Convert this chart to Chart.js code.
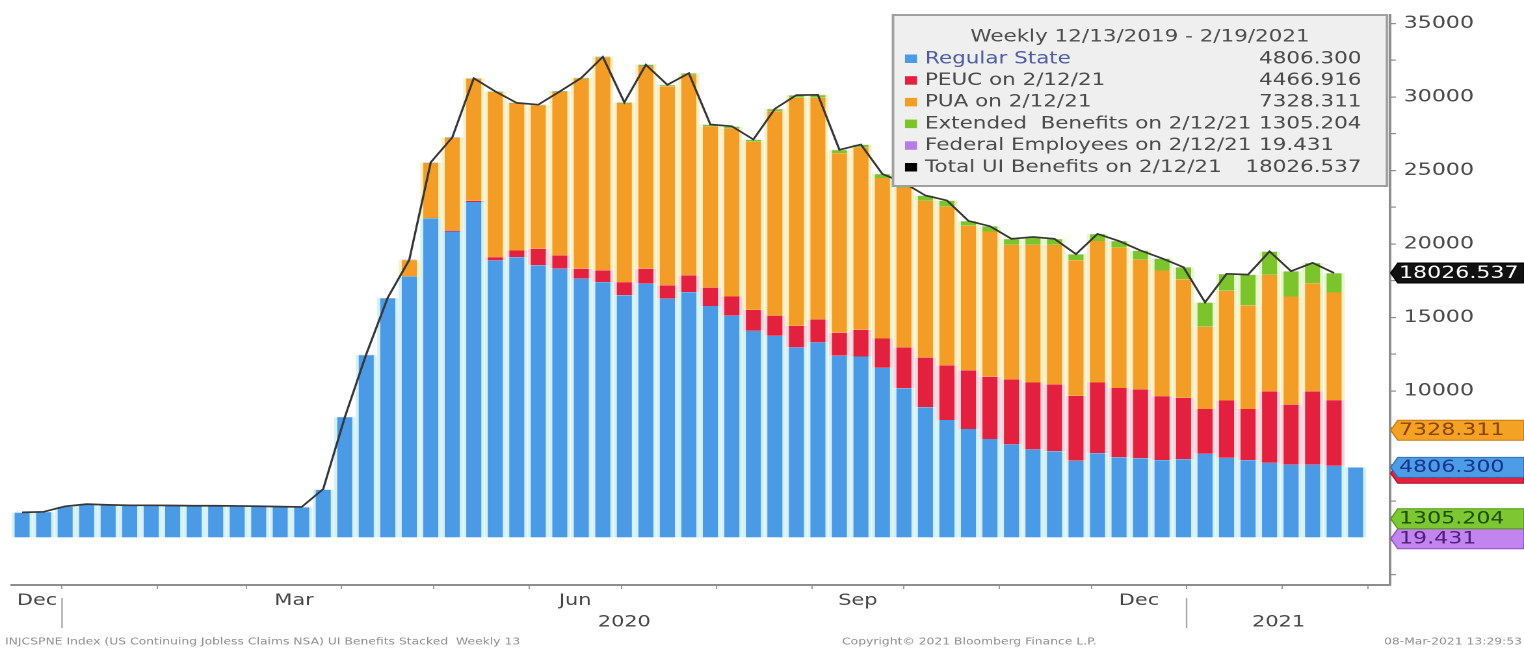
<!DOCTYPE html>
<html><head><meta charset="utf-8">
<script src="https://cdn.jsdelivr.net/npm/chart.js"></script>
<style>
html,body{margin:0;padding:0;background:#fff;overflow:hidden;width:1524px;height:648px}
#wrap{position:absolute;left:0;top:0;width:1172px;height:648px;transform:scaleX(1.300341);transform-origin:0 0}
</style></head><body>
<div id="wrap"><canvas id="c"></canvas></div>
<script>
// ---------------- data ----------------
const weekDates = ['12/13/2019','12/20/2019','12/27/2019',
 '1/3/2020','1/10/2020','1/17/2020','1/24/2020','1/31/2020','2/7/2020','2/14/2020','2/21/2020','2/28/2020',
 '3/6/2020','3/13/2020','3/20/2020','3/27/2020','4/3/2020','4/10/2020','4/17/2020','4/24/2020',
 '5/1/2020','5/8/2020','5/15/2020','5/22/2020','5/29/2020','6/5/2020','6/12/2020','6/19/2020','6/26/2020',
 '7/3/2020','7/10/2020','7/17/2020','7/24/2020','7/31/2020','8/7/2020','8/14/2020','8/21/2020','8/28/2020',
 '9/4/2020','9/11/2020','9/18/2020','9/25/2020','10/2/2020','10/9/2020','10/16/2020','10/23/2020','10/30/2020',
 '11/6/2020','11/13/2020','11/20/2020','11/27/2020','12/4/2020','12/11/2020','12/18/2020','12/25/2020',
 '1/1/2021','1/8/2021','1/15/2021','1/22/2021','1/29/2021','2/5/2021','2/12/2021','2/19/2021'];

const regularState = [1720,1760,2120,2280,2230,2200,2200,2190,2170,2170,2160,2140,2110,2090,
 3280,8220,12440,16300,17800,21740,20850,22860,18890,19110,18550,18320,17640,17410,16510,17300,16280,16730,
 15780,15130,14090,13750,12970,13310,12400,12350,11570,10190,8890,8030,7410,6730,6370,6030,5900,5250,5770,
 5490,5420,5300,5360,5720,5445,5300,5110,4990,4990,4907,4806.3];

const peuc = [null,null,null,null,null,null,null,null,null,null,null,null,null,null,null,null,null,null,null,null,
 60,80,220,450,1130,910,680,800,900,1020,910,1140,1250,1300,1430,1380,1460,1560,1560,1820,2000,2780,3380,3720,
 4000,4240,4420,4550,4550,4420,4810,4715,4700,4350,4170,3050,3905,3470,4860,4080,4980,4466.916,null];

const pua = [null,null,null,null,null,null,null,null,null,null,null,null,null,null,null,null,null,null,
 1090,3770,6310,8310,11230,10000,9750,11110,12930,14470,12150,13790,13540,13640,10970,11440,11440,13910,15520,15080,
 12220,12400,10920,10870,10660,10790,9830,9880,9150,9360,9490,9230,9620,9545,8820,8550,8070,5600,7470,7060,
 7930,7360,7370,7328.311,null];

const extendedBenefits = [null,null,null,null,null,null,null,null,null,null,null,null,null,null,null,null,null,null,
 20,22,25,28,30,35,40,45,50,55,60,70,80,90,100,110,120,140,160,180,210,180,250,300,350,400,310,340,390,520,390,
 390,470,430,600,800,800,1640,1130,2070,1580,1700,1360,1305.204,null];

const federalEmployees = [13,13,14,14,14,13,13,13,13,13,12,12,12,12,
 14,18,22,24,26,27,27,26,25,24,24,23,23,22,22,22,21,21,21,20,20,20,20,20,19,19,19,19,18,18,18,18,18,18,
 19,19,20,20,20,20,19,21,20,19,19,19,19,19.431,null];

const totalUI = [1740,1780,2150,2300,2250,2220,2220,2210,2190,2190,2180,2160,2130,2110,3330,8200,12500,16350,
 18920,25560,27250,31280,30380,29600,29480,30380,31300,32730,29640,32200,30830,31620,28130,28010,27110,29200,
 30130,30150,26410,26770,24760,24160,23300,22960,21570,21210,20350,20480,20350,19310,20690,20200,19560,19020,
 18420,16030,17970,17920,19500,18150,18720,18026.537];

const legendTitle = 'Weekly 12/13/2019 - 2/19/2021';
const legendLabels = ['Regular State','PEUC on 2/12/21','PUA on 2/12/21','Extended  Benefits on 2/12/21','Federal Employees on 2/12/21','Total UI Benefits on 2/12/21'];
const legendValues = ['4806.300','4466.916','7328.311','1305.204','19.431','18026.537'];
const lastValues = [4806.3, 4466.916, 7328.311, 1305.204, 19.431, 18026.537];

const yTickLabels = [10000,15000,20000,25000,30000,35000];
const monthLabels = [{y:2019,m:11,label:'Dec'},{y:2020,m:2,label:'Mar'},{y:2020,m:5,label:'Jun'},{y:2020,m:8,label:'Sep'},{y:2020,m:11,label:'Dec'}];
const yearLabels = ['2020','2021'];
const footerTexts = ['INJCSPNE Index (US Continuing Jobless Claims NSA) UI Benefits Stacked  Weekly 13','Copyright\u00A9 2021 Bloomberg Finance L.P.','08-Mar-2021 13:29:53'];

// ---------------- helpers ----------------
const S = 1524/1172;             // horizontal stretch of the page
const rx = x => x / S;           // reference x -> canvas x
const W = 1172;
const DAY = 86400000;
const parseDate = s => { const [m,d,y] = s.split('/').map(Number); return Date.UTC(y, m-1, d); };
const t0 = parseDate(weekDates[0]);
const PLOT_LAG_DAYS = 6;
const posOf = t => (t - t0)/DAY/7 - PLOT_LAG_DAYS/7;
const X_MIN = -0.47, X_MAX = 63.6;
const Y_MIN = -3200, Y_MAX = 35580;

const monthStarts = [];
for (let y = 2019, m = 11; y < 2021 || m <= 3; ) {
  const p = posOf(Date.UTC(y, m, 1));
  if (p >= X_MIN && p <= X_MAX) monthStarts.push(p);
  m++; if (m > 11) { m = 0; y++; }
}
const monthTicks = monthLabels.map(o => {
  const a = Math.max(posOf(Date.UTC(o.y, o.m, 1)), X_MIN);
  const b = Math.min(posOf(Date.UTC(o.y, o.m + 1, 1)), X_MAX);
  return {value: (a + b)/2, label: o.label};
});
const yearTicks = yearLabels.map(yl => {
  const y = Number(yl);
  const a = Math.max(posOf(Date.UTC(y, 0, 1)), X_MIN);
  const b = Math.min(posOf(Date.UTC(y + 1, 0, 1)), X_MAX - 0.9);
  return {value: (a + b)/2, label: yl};
});
const yearBounds = yearLabels.map(yl => posOf(Date.UTC(Number(yl), 0, 1)));

const pts = arr => arr.map((v, i) => ({x: i, y: v}));
const FONT = '"DejaVu Sans", Verdana, sans-serif';
const COLORS = {reg:'#4a9ae6', peuc:'#e3213f', pua:'#f39c26', eb:'#7cc42c', fed:'#b77de6', tot:'#111111'};
const TINTS  = {reg:'#d2f1fd', peuc:'#f9d3dc', pua:'#fdefc2', eb:'#e6f6cc', fed:'#eedcf8'};

// ---------------- decorations plugin ----------------
const decor = {
  id: 'decor',
  afterDraw(chart) {
    const ctx = chart.ctx;
    const xs = chart.scales.x, ys = chart.scales.y;
    const area = chart.chartArea;
    ctx.save();
    // year separators
    ctx.strokeStyle = '#a8a8a8'; ctx.lineWidth = 1.2;
    yearBounds.forEach(p => {
      const x = xs.getPixelForValue(p);
      if (x < area.left || x > area.right) return;
      ctx.beginPath(); ctx.moveTo(x, 598); ctx.lineTo(x, 628); ctx.stroke();
    });

    // legend box
    const L = rx(893), R = rx(1387), T = 15, B = 186;
    ctx.fillStyle = '#efefef'; ctx.fillRect(L, T, R - L, B - T);
    ctx.strokeStyle = '#a0a0a0'; ctx.lineWidth = 2; ctx.strokeRect(L, T, R - L, B - T);
    ctx.font = '16.5px ' + FONT; ctx.textBaseline = 'middle';
    ctx.fillStyle = '#4d4d4d'; ctx.textAlign = 'center';
    ctx.fillText(legendTitle, (L + R)/2, 37);
    const mcol = [COLORS.reg, COLORS.peuc, COLORS.pua, COLORS.eb, COLORS.fed, '#000000'];
    const valCol = rx(1259);
    const valRight = valCol + ctx.measureText(legendValues[0]).width;
    legendLabels.forEach((lab, k) => {
      const y = 59 + k*21.7;
      ctx.fillStyle = mcol[k]; ctx.fillRect(rx(905), y - 4.5, rx(917) - rx(905), 8.5);
      ctx.fillStyle = k === 0 ? '#4f5ca6' : '#4a4a4a';
      ctx.textAlign = 'left';
      ctx.fillText(lab, rx(925), y);
      ctx.fillStyle = '#4a4a4a';
      const vw = ctx.measureText(legendValues[k]).width;
      const vx = k === legendValues.length - 1 ? valRight - vw : valCol;
      ctx.fillText(legendValues[k], vx, y);
    });

    // value tags on the right axis
    const H = 20, tip = area.right + 0.5, body = area.right + 6;
    const tag = (y, fill, edge, txt, tcol) => {
      ctx.beginPath();
      ctx.moveTo(tip, y); ctx.lineTo(body, y - H/2); ctx.lineTo(W, y - H/2);
      ctx.lineTo(W, y + H/2); ctx.lineTo(body, y + H/2); ctx.closePath();
      ctx.fillStyle = fill; ctx.fill();
      ctx.strokeStyle = edge; ctx.lineWidth = 1; ctx.stroke();
      ctx.fillStyle = tcol; ctx.textAlign = 'left'; ctx.textBaseline = 'middle';
      ctx.font = '17px ' + FONT;
      ctx.fillText(txt, rx(1399), y + 0.5);
    };
    const yReg = ys.getPixelForValue(lastValues[0]);
    const yPeuc = ys.getPixelForValue(lastValues[1]);
    const yPua = ys.getPixelForValue(lastValues[2]);
    const yEb = ys.getPixelForValue(lastValues[3]);
    let yFed = ys.getPixelForValue(lastValues[4]);
    const yTot = ys.getPixelForValue(lastValues[5]);
    if (yFed < yEb + H) yFed = yEb + H;
    tag(yFed, '#c285ef', '#8f4fc0', legendValues[4], '#4f1d78');
    tag(yEb, '#7dc832', '#4f9a12', legendValues[3], '#1f4d00');
    tag(yPeuc + 1, '#e3213f', '#a8102a', legendValues[1], '#5a0010');
    tag(yReg, '#4c9de6', '#2d6fb8', legendValues[0], '#17348f');
    tag(yPua, '#f4a226', '#c77a0a', legendValues[2], '#8a4300');
    tag(yTot, '#111111', '#000000', legendValues[5], '#ffffff');

    // footer
    ctx.font = '9.5px ' + FONT; ctx.fillStyle = '#8d8d8d'; ctx.textBaseline = 'middle';
    ctx.textAlign = 'left';
    ctx.fillText(footerTexts[0], rx(5), 642);
    ctx.fillText(footerTexts[1], rx(842), 642);
    ctx.textAlign = 'right';
    ctx.fillText(footerTexts[2], rx(1522), 642);
    ctx.restore();
  }
};

// ---------------- chart ----------------
const barDs = (label, arr, key) => ({type:'bar', label, data: pts(arr), backgroundColor: COLORS[key],
  borderColor: TINTS[key], borderWidth: {left: 2.4, right: 2.4, top: 0, bottom: 0}, borderSkipped: false,
  stack: 'ui', order: 1, barPercentage: 0.99, categoryPercentage: 1.0, xAxisID:'x', yAxisID:'y'});

new Chart(document.getElementById('c'), {
  type: 'bar',
  data: {
    datasets: [
      {type:'line', label:'Total UI Benefits', data: pts(totalUI), borderColor:'#363636', borderWidth:1.7,
       pointRadius:0, tension:0, fill:false, order:0, stack:'total', xAxisID:'x', yAxisID:'y'},
      barDs('Regular State', regularState, 'reg'),
      barDs('PEUC', peuc, 'peuc'),
      barDs('PUA', pua, 'pua'),
      barDs('Extended Benefits', extendedBenefits, 'eb'),
      barDs('Federal Employees', federalEmployees, 'fed')
    ]
  },
  options: {
    responsive: true, maintainAspectRatio: false, animation: false, devicePixelRatio: 2,
    layout: {padding: {left: rx(12), top: 15, right: 0, bottom: 14}},
    plugins: {legend: {display: false}, tooltip: {enabled: false}},
    scales: {
      x: {type:'linear', position:'bottom', min: X_MIN, max: X_MAX, stacked: true, offset: false, weight: 0,
          grid: {display: true, drawOnChartArea: false, drawTicks: true, tickLength: 4, offset: false, color:'#9a9a9a', lineWidth: 1},
          border: {display: true, color: '#8e8e8e', width: 2},
          ticks: {display: false, autoSkip: false},
          afterBuildTicks: s => { s.ticks = monthStarts.map(v => ({value: v})); },
          afterFit: s => { s.height = 5; s.paddingLeft = 0; s.paddingRight = 0; }},
      xMonth: {type:'linear', axis:'x', position:'bottom', min: X_MIN, max: X_MAX, offset: false, weight: 1,
          grid: {display: false, drawTicks: false}, border: {display: false},
          ticks: {autoSkip: false, maxRotation: 0, padding: 1, color: '#464646', font: {family: FONT, size: 16},
                  callback: (v, i) => monthTicks[i] ? monthTicks[i].label : ''},
          afterBuildTicks: s => { s.ticks = monthTicks.map(t => ({value: t.value})); },
          afterFit: s => { s.height = 22; s.paddingLeft = 0; s.paddingRight = 0; }},
      xYear: {type:'linear', axis:'x', position:'bottom', min: X_MIN, max: X_MAX, offset: false, weight: 2,
          grid: {display: false, drawTicks: false}, border: {display: false},
          ticks: {autoSkip: false, maxRotation: 0, padding: 0.5, color: '#464646', font: {family: FONT, size: 16},
                  callback: (v, i) => yearTicks[i] ? yearTicks[i].label : ''},
          afterBuildTicks: s => { s.ticks = yearTicks.map(t => ({value: t.value})); },
          afterFit: s => { s.height = 22; s.paddingLeft = 0; s.paddingRight = 0; }},
      y: {type:'linear', position:'right', min: Y_MIN, max: Y_MAX, stacked: true,
          grid: {display: true, drawOnChartArea: false, drawTicks: true, tickLength: 4.5, color:'#8e8e8e', lineWidth: 1.2},
          border: {display: true, color: '#8e8e8e', width: 2},
          ticks: {autoSkip: false, padding: 6, color: '#4a4a4a', font: {family: FONT, size: 17},
                  callback: v => yTickLabels.includes(v) ? String(v) : ''},
          afterBuildTicks: s => { const t = []; for (let v = -2500; v <= 35000; v += 2500) t.push({value: v}); s.ticks = t; },
          afterFit: s => { s.width = W - rx(1390); s.paddingTop = 0; s.paddingBottom = 0; }}
    }
  },
  plugins: [decor]
});
</script></body></html>
